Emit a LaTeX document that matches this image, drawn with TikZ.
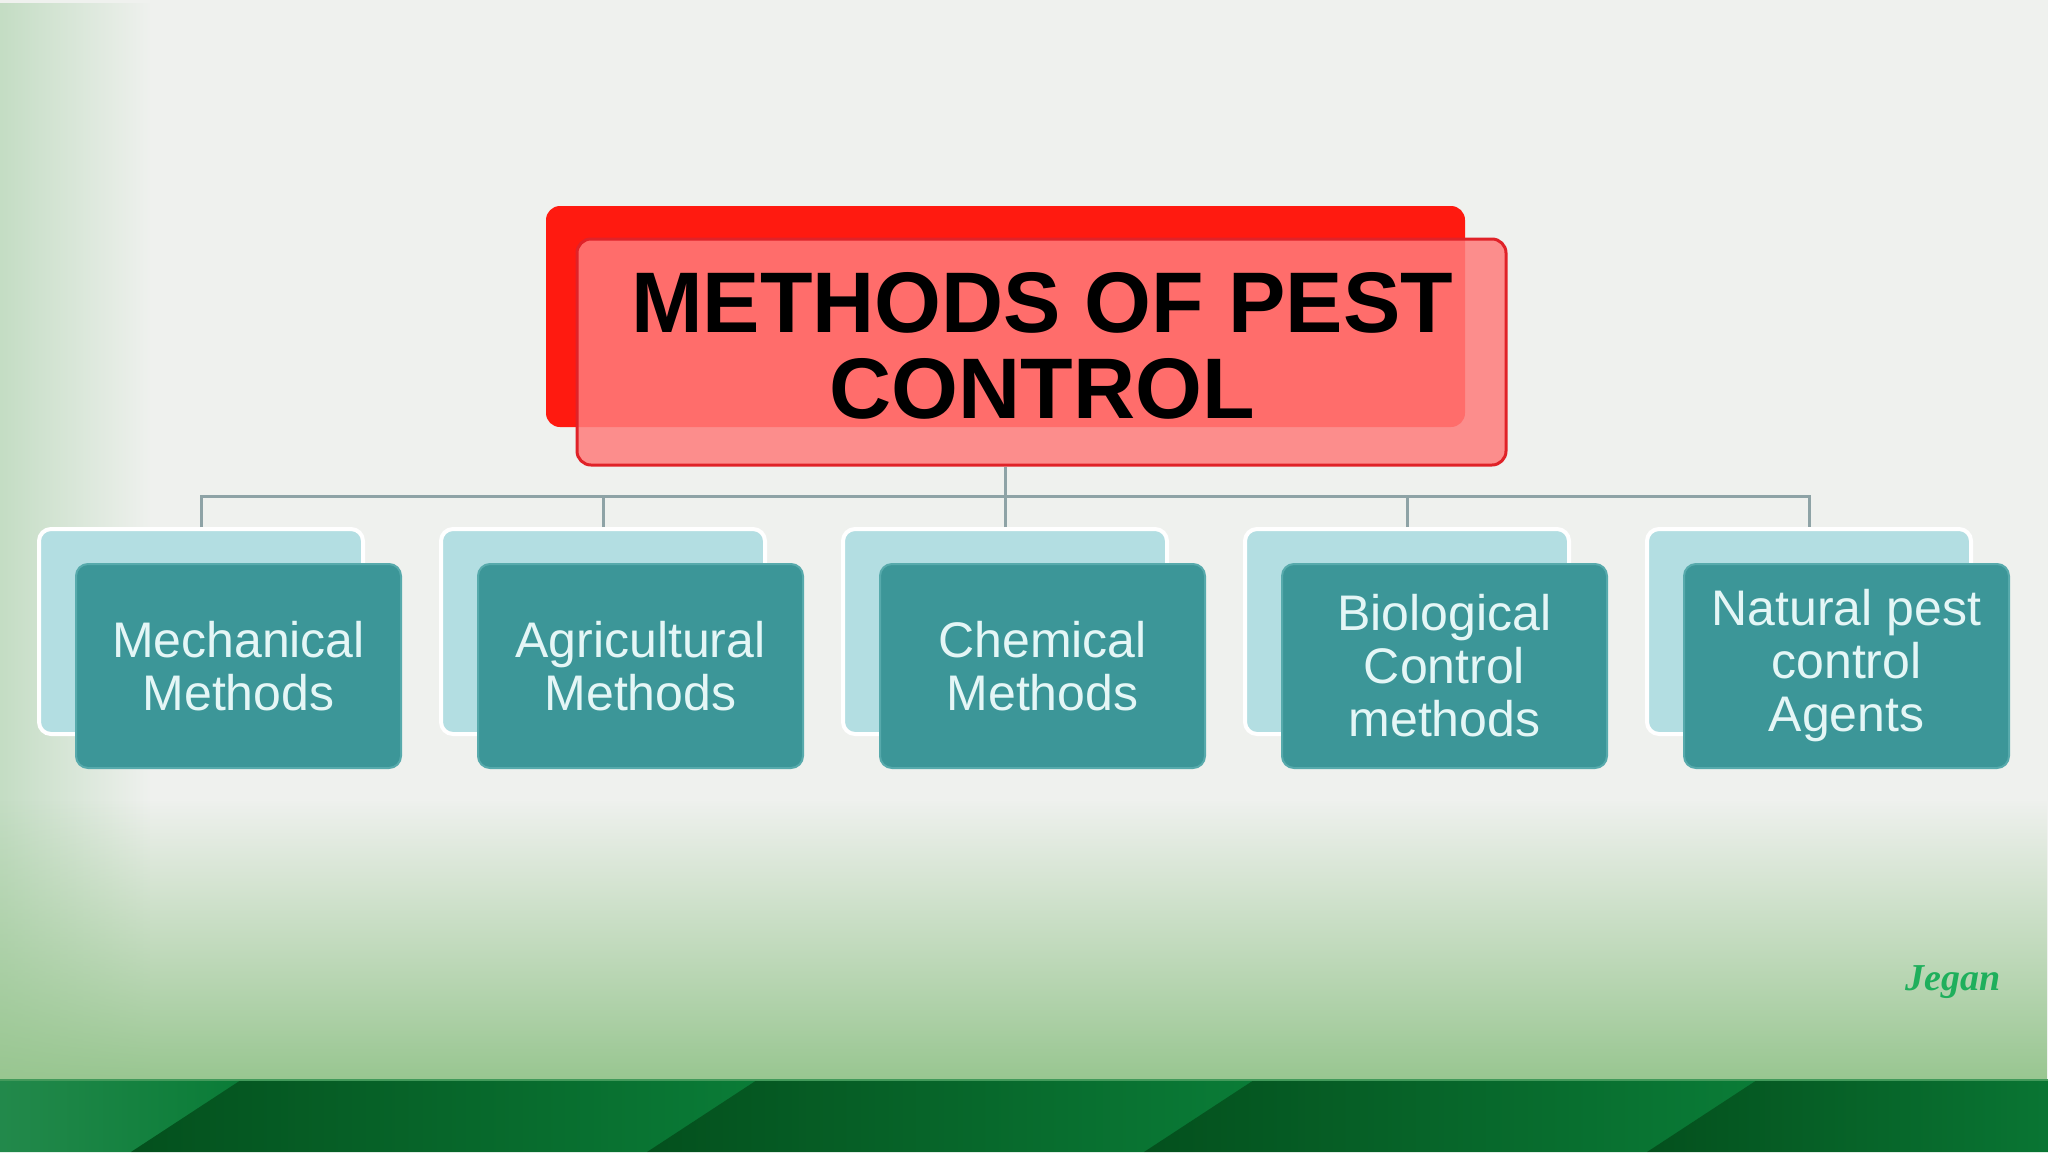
\documentclass[tikz,border=0pt]{standalone}
\usepackage{fontspec}
\setmainfont{Liberation Sans}
\newfontfamily\sigfont{Liberation Serif}
\usetikzlibrary{fadings}
\definecolor{bg}{HTML}{EFF1EE}
\definecolor{leftgreen}{HTML}{C4DDC4}
\definecolor{botgreen}{HTML}{98C690}
\definecolor{banddark}{HTML}{04501D}
\definecolor{bandlight}{HTML}{0A7C37}
\definecolor{titleback}{HTML}{FF1A10}
\definecolor{titlefront}{HTML}{FF7C7C}
\definecolor{titleedge}{HTML}{E02228}
\definecolor{childback}{HTML}{B3DEE2}
\definecolor{childfront}{HTML}{3C9698}
\definecolor{childedge}{HTML}{57AAAC}
\definecolor{childtext}{HTML}{E4F6F6}
\definecolor{connc}{HTML}{8EA3A6}
\definecolor{sigc}{HTML}{1FAF5C}
\tikzset{
  tback/.style={fill=titleback, rounded corners=14pt, minimum width=919pt, minimum height=221pt, inner sep=0pt},
  tfront/.style={fill=titlefront, fill opacity=0.85, draw=titleedge, line width=3pt, rounded corners=14pt, minimum width=929pt, minimum height=226pt, inner sep=0pt},
  ttext/.style={align=center, font=\fontsize{86}{86}\selectfont\bfseries, text=black, inner sep=0pt},
  cback/.style={fill=childback, draw=white, line width=4pt, rounded corners=12pt, minimum width=324pt, minimum height=205pt, inner sep=0pt},
  cfront/.style={fill=childfront, draw=childedge, line width=2pt, rounded corners=12pt, minimum width=325pt, minimum height=204pt, inner sep=0pt, align=center, text=childtext, font=\fontsize{50}{53}\selectfont},
  conn/.style={draw=connc, line width=3pt},
}
\begin{document}
\begin{tikzpicture}[x=1pt,y=-1pt]
\useasboundingbox (0,0) rectangle (2048,1152);
% background
\fill[bg] (0,0) rectangle (2048,1152);
\fill[leftgreen, path fading=east] (0,0) rectangle (150,1080);
\fill[botgreen, path fading=north] (0,800) rectangle (2048,1081);
% bottom band
\fill[bandlight] (0,1080) rectangle (2048,1152);
\shade[left color=bandlight!90!white, right color=bandlight] (0,1080) -- (241,1080) -- (131,1152) -- (0,1152) -- cycle;
\shade[left color=banddark, right color=bandlight] (241,1080) -- (757,1080) -- (647,1152) -- (131,1152) -- cycle;
\shade[left color=banddark, right color=bandlight] (757,1080) -- (1254,1080) -- (1144,1152) -- (647,1152) -- cycle;
\shade[left color=banddark, right color=bandlight] (1254,1080) -- (1757,1080) -- (1647,1152) -- (1144,1152) -- cycle;
\shade[left color=banddark, right color=bandlight!85!banddark] (1757,1080) -- (2048,1080) -- (2048,1152) -- (1647,1152) -- cycle;
\draw[line width=2pt, draw=bandlight!60!botgreen] (0,1080) -- (2048,1080);
% title
\node[tback] (tb) at (1005.5,316.5) {};
\node[tfront] (title) at (1041.5,352) {};
\node[ttext] (titletext) at (1042,346) {METHODS OF PEST\\CONTROL};
\coordinate (bar) at (1006,496);
\draw[conn] (tb.south |- title.south) -- (tb.south |- bar);
% children
\foreach \i/\txt in {1/{Mechanical\\Methods},2/{Agricultural\\Methods},3/{Chemical\\Methods},4/{Biological\\Control\\methods},5/{Natural pest\\control\\Agents}}{
  \pgfmathsetmacro{\bx}{201+(\i-1)*402}
  \pgfmathsetmacro{\fx}{238.5+(\i-1)*402}
  \node[cback] (b\i) at (\bx,631.5) {};
  \node[cfront] (c\i) at (\fx,666) {\txt};
}
\draw[conn] (b1.north) -- (b1.north |- bar) -- (b5.north |- bar) -- (b5.north);
\foreach \i in {2,3,4}{
  \draw[conn] (b\i.north) -- (b\i.north |- bar);
}
% signature
\node[text=sigc, font=\sigfont\bfseries\itshape\fontsize{38}{38}\selectfont] (sig) at (1953,982) {Jegan};
\end{tikzpicture}
\end{document}
